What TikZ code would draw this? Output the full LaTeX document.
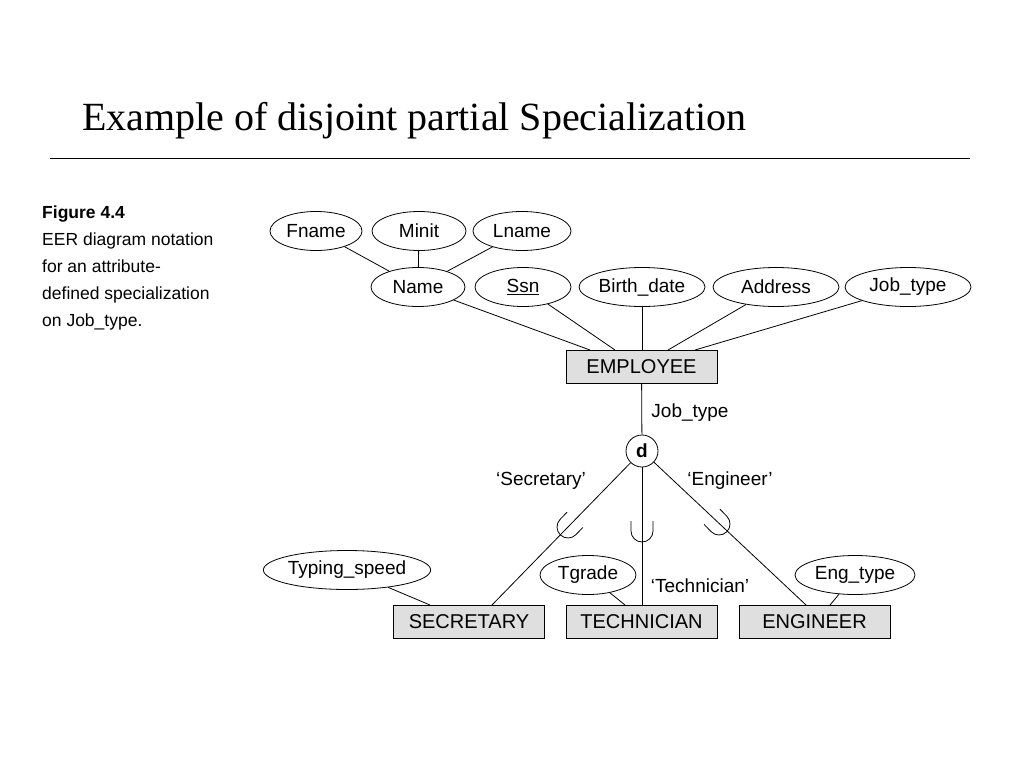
\documentclass[tikz,border=0pt]{standalone}
\usepackage{fontspec}
\setmainfont{Liberation Sans}
\newfontfamily\titlefont{Liberation Serif}
\usetikzlibrary{shapes.geometric}
\begin{document}
\begin{tikzpicture}[x=1pt,y=-1pt,
  attr/.style={ellipse,draw,thick,minimum height=39pt,inner sep=0pt,font=\fontsize{19}{22}\selectfont},
  ent/.style={draw,thick,fill=gray!25,minimum width=151pt,minimum height=33pt,inner sep=0pt,font=\fontsize{20}{24}\selectfont},
  lbl/.style={font=\fontsize{19}{22}\selectfont,inner sep=0pt},
  figcapstyle/.style={font=\fontsize{17.5}{27}\selectfont,align=left,anchor=north west,inner sep=0pt},
  ln/.style={thick},
  cup/.pic={\draw[thick] (-11pt,10pt) -- (-11pt,0pt) arc[start angle=180,end angle=360,radius=11pt] -- (11pt,10pt);}]
\useasboundingbox (0,0) rectangle (1024,768);
\node[anchor=base west,inner sep=0pt,font=\titlefont\fontsize{40}{48}\selectfont] (title) at (82,130) {Example of disjoint partial Specialization};
\draw[thick] (50,158) -- (970,158);
\node[figcapstyle] (figcap) at (42,206) {\textbf{Figure 4.4}\\EER diagram notation\\for an attribute-\\defined specialization\\on Job\_type.};
% attributes
\node[attr,minimum width=92pt] (fname) at (316,231) {Fname};
\node[attr,minimum width=94pt] (minit) at (419,231) {Minit};
\node[attr,minimum width=98pt] (lname) at (522,231) {Lname};
\node[attr,minimum width=94pt] (name) at (418,287) {Name};
\node[attr,minimum width=96pt] (ssn) at (523,287) {\underline{Ssn}};
\node[attr,minimum width=126pt] (bdate) at (642,287) {Birth\_date};
\node[attr,minimum width=126pt] (addr) at (776,287) {Address};
\node[attr,minimum width=126pt] (jtype) at (908,287) {Job\_type};
\node[ent] (emp) at (641.5,366.5) {EMPLOYEE};
\node[circle,draw,thick,minimum size=32pt,inner sep=0pt,font=\bfseries\fontsize{19}{22}\selectfont] (d) at (642,451) {d};
\node[ent] (sec) at (469,622) {SECRETARY};
\node[ent] (tech) at (641.5,622) {TECHNICIAN};
\node[ent] (eng) at (814.5,622) {ENGINEER};
\node[attr,minimum width=154pt] (tspeed) at (347,570) {Typing\_speed};
\node[attr,minimum width=96pt] (tgrade) at (588,575) {Tgrade};
\node[attr,minimum width=120pt] (etype) at (855,575) {Eng\_type};
\coordinate (e1) at (590,350); \coordinate (e2) at (615,350); \coordinate (e3) at (642,350);
\coordinate (e4) at (668,350); \coordinate (e5) at (695,350);
\draw[ln] (fname) -- (name); \draw[ln] (minit) -- (name); \draw[ln] (lname) -- (name);
\draw[ln] (name) -- (e1); \draw[ln] (ssn) -- (e2); \draw[ln] (bdate) -- (e3);
\draw[ln] (addr) -- (e4); \draw[ln] (jtype) -- (e5);
\draw[ln] (emp) -- (d);
\coordinate (s1) at (492,605); \coordinate (t1) at (642,605); \coordinate (g1) at (806,605);
\draw[ln] (d) -- (s1); \draw[ln] (d) -- (t1); \draw[ln] (d) -- (g1);
\coordinate (s2) at (430,605); \coordinate (t2) at (625,605); \coordinate (g2) at (830,605);
\draw[ln] (tspeed) -- (s2); \draw[ln] (tgrade) -- (t2); \draw[ln] (etype) -- (g2);
\pic[rotate=-44] at (568,527) {cup};
\pic at (642,531) {cup};
\pic[rotate=44] at (719,524) {cup};
\node[lbl] (ljob) at (690,413) {Job\_type};
\node[lbl] (lsec) at (541,481) {‘Secretary’};
\node[lbl] (leng) at (730,481) {‘Engineer’};
\node[lbl] (ltech) at (700,586) {‘Technician’};
\end{tikzpicture}
\end{document}
